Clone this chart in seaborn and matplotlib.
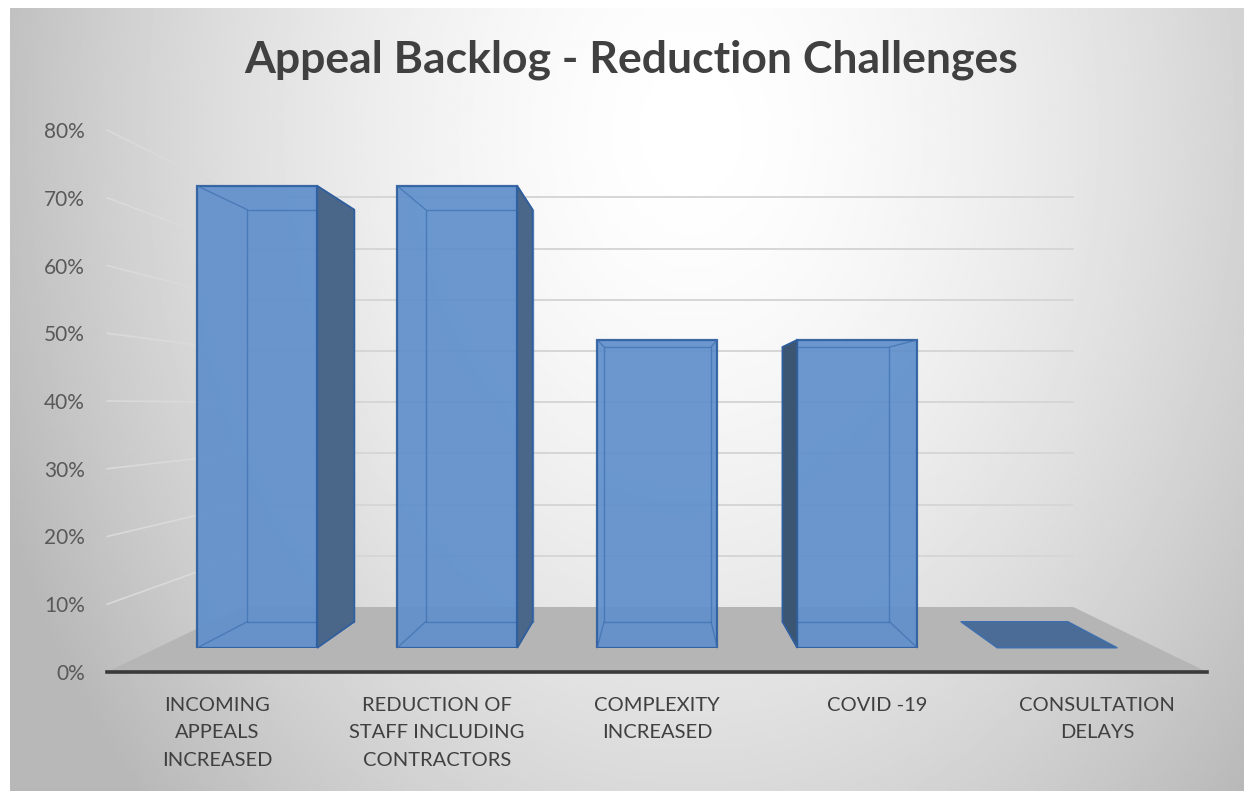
import numpy as np
import pandas as pd
import matplotlib
matplotlib.use('Agg')
import matplotlib.pyplot as plt
from matplotlib.patches import Polygon
import seaborn as sns

# Datos del gráfico
categorias = ['INCOMING\nAPPEALS\nINCREASED', 'REDUCTION OF\nSTAFF INCLUDING\nCONTRACTORS',
              'COMPLEXITY\nINCREASED', 'COVID -19', 'CONSULTATION\nDELAYS']
valores = [75, 75, 50, 50, 0]
ticks_y = [0, 10, 20, 30, 40, 50, 60, 70, 80]
titulo = 'Appeal Backlog - Reduction Challenges'

df = pd.DataFrame({'categoria': categorias, 'valor': valores})

sns.set_theme(style='white')
plt.rcParams['font.family'] = ['Lato', 'DejaVu Sans']

W, H = 1248, 795
fig = plt.figure(figsize=(W / 100, H / 100), dpi=100)
fig.patch.set_facecolor('white')


def caja(left, top, right, bottom):
    return [left / W, 1 - bottom / H, (right - left) / W, (bottom - top) / H]


# Fondo con degradado radial
ax_bg = fig.add_axes(caja(10, 8, 1244, 791), zorder=0)
yy, xx = np.mgrid[8:791:2, 10:1244:2]
r = np.sqrt(((xx - 690) / 680.0) ** 2 + ((yy - 130) / 900.0) ** 2)
gris = 1 - 0.24 * np.clip(r, 0, 1.1) ** 1.6
ax_bg.imshow(gris, cmap='gray', vmin=0, vmax=1, aspect='auto', interpolation='bilinear')
ax_bg.axis('off')

# Plano frontal (etiquetas de ejes)
ax_front = fig.add_axes(caja(107, 130, 1207, 672), zorder=1)
ax_front.set_facecolor('none')
ax_front.set_xlim(-0.5, len(categorias) - 0.5)
ax_front.set_ylim(0, 80)

# Punto de fuga y profundidades
vp = np.array([660.0, H - 406.0])
f_barra = 0.909
f_fondo_barra = 0.892
f_pared = 0.7557


def proyectar(ax, pts, f):
    disp = ax.transData.transform(pts)
    disp = vp + f * (disp - vp)
    return ax.transData.inverted().transform(disp)


# Suelo
x0, x1 = ax_front.get_xlim()
frente = np.array([[x0, 0], [x1, 0]])
atras = proyectar(ax_front, frente, f_pared)
ax_front.add_patch(Polygon([frente[0], frente[1], atras[1], atras[0]], closed=True,
                           facecolor='#b5b5b5', edgecolor='none', zorder=1))

# Líneas de cuadrícula en las paredes
for v in ticks_y[1:]:
    izq = np.array([[x0, v], [x1, v]])
    fondo = proyectar(ax_front, izq, f_pared)
    ax_front.plot([fondo[0, 0], fondo[1, 0]], [fondo[0, 1], fondo[1, 1]],
                  color='#d6d6d6', lw=1.4, zorder=0.5)
    ax_front.plot([izq[0, 0], fondo[0, 0]], [izq[0, 1], fondo[0, 1]],
                  color='#dadada', lw=1.2, zorder=0.5, clip_on=False)

ax_front.set_yticks(ticks_y)
ax_front.set_yticklabels([f'{v}%' for v in ticks_y], color='#595959', fontsize=15)
ax_front.set_xticks(range(len(categorias)))
ax_front.set_xticklabels(categorias, color='#404040', fontsize=14.5, linespacing=1.75)
ax_front.tick_params(axis='y', length=0, pad=16)
ax_front.tick_params(axis='x', length=0, pad=18)
for lado in ['top', 'right', 'left']:
    ax_front.spines[lado].set_visible(False)
ax_front.spines['bottom'].set_color('#3a3a3a')
ax_front.spines['bottom'].set_linewidth(2.6)
ax_front.spines['bottom'].set_zorder(3)

# Plano de las barras
disp_box = ax_front.transAxes.transform([[0, 0], [1, 1]])
disp_box = vp + f_barra * (disp_box - vp)
ax_bars = fig.add_axes([disp_box[0, 0] / W, disp_box[0, 1] / H,
                        (disp_box[1, 0] - disp_box[0, 0]) / W,
                        (disp_box[1, 1] - disp_box[0, 1]) / H], zorder=2)
ax_bars.set_facecolor('none')

sns.barplot(data=df, x='categoria', y='valor', ax=ax_bars, color='#5f8fcb',
            saturation=1, width=0.6, edgecolor='#2f5f9f', linewidth=1.6, alpha=0.92)
ax_bars.set_xlim(-0.5, len(categorias) - 0.5)
ax_bars.set_ylim(0, 80)
ax_bars.axis('off')

# Caras laterales y aristas traseras (efecto 3D)
for p in ax_bars.patches:
    bx, by = p.get_x(), p.get_y()
    bw, bh = p.get_width(), p.get_height()
    fr = np.array([[bx, by], [bx + bw, by], [bx + bw, by + bh], [bx, by + bh]])
    tr = proyectar(ax_bars, fr, f_fondo_barra)
    fr_disp = ax_bars.transData.transform(fr)
    linea = dict(color='#3e6fb0', lw=1.0, alpha=0.7, zorder=4, clip_on=False)
    if bh > 0:
        ax_bars.plot(np.append(tr[:, 0], tr[0, 0]), np.append(tr[:, 1], tr[0, 1]), **linea)
        for i in range(4):
            ax_bars.plot([fr[i, 0], tr[i, 0]], [fr[i, 1], tr[i, 1]], **linea)
    # cara derecha visible
    if fr_disp[1, 0] < vp[0] and bh > 0:
        ax_bars.add_patch(Polygon([fr[1], fr[2], tr[2], tr[1]], closed=True,
                                  facecolor='#4a6689', edgecolor='#2f5f9f', lw=1.2,
                                  zorder=5, clip_on=False))
    # cara izquierda visible
    if fr_disp[0, 0] > vp[0] and bh > 0:
        ax_bars.add_patch(Polygon([fr[0], fr[3], tr[3], tr[0]], closed=True,
                                  facecolor='#3b5673', edgecolor='#2f5f9f', lw=1.2,
                                  zorder=5, clip_on=False))
    # cara superior visible (por debajo del ojo)
    if fr_disp[2, 1] < vp[1]:
        ax_bars.add_patch(Polygon([fr[3], fr[2], tr[2], tr[3]], closed=True,
                                  facecolor='#4a6c96', edgecolor='#3e6fb0', lw=1.0,
                                  zorder=5, clip_on=False))

fig.text(631 / W, 1 - 60 / H, titulo, ha='center', va='center', fontsize=32,
         fontweight='bold', color='#404040')

fig.savefig('out.png', dpi=100)
